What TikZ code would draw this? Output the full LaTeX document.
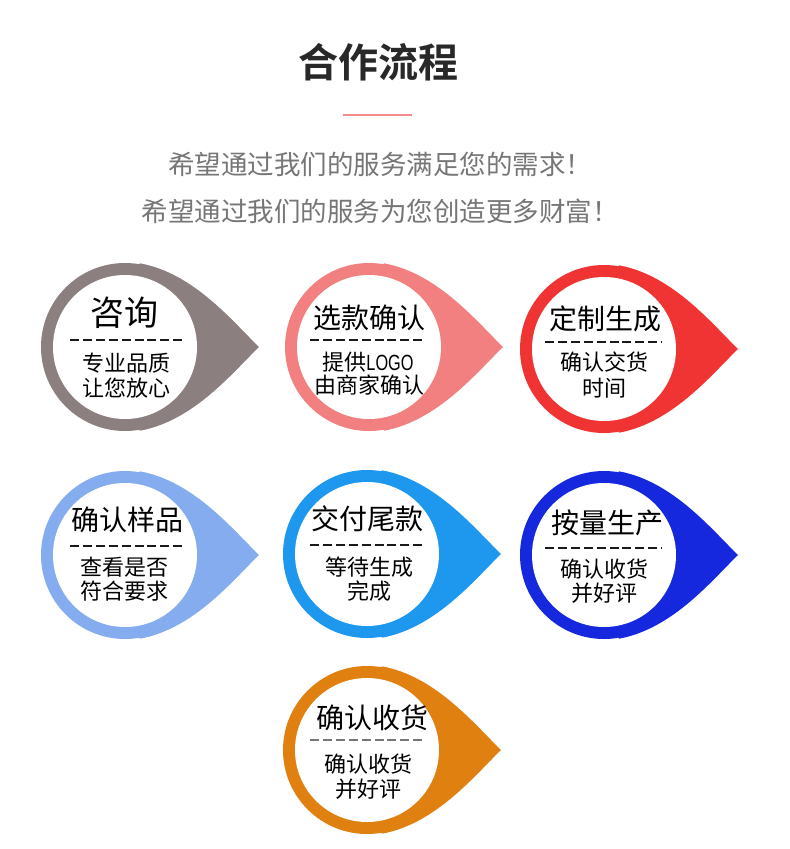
\documentclass[tikz,border=0pt]{standalone}
\usepackage{fontspec}
\newfontfamily\cjk{Noto Sans CJK SC}
\newfontfamily\cjkbold{Noto Sans CJK SC Bold}
\newfontfamily\latnarrow{Liberation Sans}[FakeStretch=0.74]
\definecolor{cTaupe}{RGB}{139,127,127}
\definecolor{cSalmon}{RGB}{242,128,128}
\definecolor{cRed}{RGB}{240,52,52}
\definecolor{cLightBlue}{RGB}{132,172,238}
\definecolor{cSky}{RGB}{30,152,238}
\definecolor{cBlue}{RGB}{22,40,222}
\definecolor{cOrange}{RGB}{224,128,16}
\definecolor{cTitle}{RGB}{40,40,40}
\definecolor{cSub}{RGB}{118,118,118}
\definecolor{cLine}{RGB}{242,140,140}
\newcommand{\pinshape}[3]{%
  \begin{scope}[shift={(#1,#2)}]
    \fill[#3] (0,0) circle (84pt);
    \fill[#3] (134,0) .. controls (108.8,24.2) and (69,74) .. (14.8,83.7)
      -- (0,0) -- (14.8,-83.7) .. controls (69,-74) and (108.8,-24.2) .. (134,0) -- cycle;
    \fill[white] (0,0) circle (72pt);
  \end{scope}}
\tikzset{
  pintitle/.style={inner sep=0pt, text=black, font=\cjk\fontsize{28}{30}\selectfont},
  pinsub/.style={inner sep=0pt, text=black, font=\cjk\fontsize{22}{24}\selectfont},
  dashrule/.style={line width=1.8pt, draw=black!90, dash pattern=on 9pt off 3.9pt},
  subtitle/.style={inner sep=0pt, text=cSub, font=\cjk\fontsize{26.5}{30}\selectfont},
}
\begin{document}
\begin{tikzpicture}[x=1pt,y=-1pt]
\useasboundingbox (0,0) rectangle (790,849);
\fill[white] (0,0) rectangle (790,849);

% header
\node[inner sep=0pt, text=cTitle, font=\cjkbold\fontsize{40}{44}\selectfont] (head) at (378,62) {合作流程};
\draw[cLine, line width=2pt] (343,115) -- (412,115);
\node[subtitle] (sub1) at (380,164) {希望通过我们的服务满足您的需求！};
\node[subtitle] (sub2) at (380,211) {希望通过我们的服务为您创造更多财富！};

% pins
\pinshape{125}{347}{cTaupe}
\pinshape{369}{347}{cSalmon}
\pinshape{604}{349}{cRed}
\pinshape{125}{555}{cLightBlue}
\pinshape{367}{554}{cSky}
\pinshape{604}{555}{cBlue}
\pinshape{367}{750}{cOrange}

% pin 1
\node[pintitle, font=\cjk\fontsize{34}{36}\selectfont] (t1) at (124,313) {咨询};
\draw[dashrule] (70,340) -- (185,340);
\node[pinsub] (s1a) at (126,363) {专业品质};
\node[pinsub] (s1b) at (126,388) {让您放心};

% pin 2
\node[pintitle] (t2) at (369,318) {选款确认};
\draw[dashrule] (310,340) -- (425,340);
\node[pinsub] (s2a) at (368,362) {提供{\latnarrow LOGO}};
\node[pinsub] (s2b) at (369,385) {由商家确认};

% pin 3
\node[pintitle] (t3) at (605,319) {定制生成};
\draw[dashrule] (545,342) -- (662,342);
\node[pinsub] (s3a) at (604,362) {确认交货};
\node[pinsub] (s3b) at (604,388) {时间};

% pin 4
\node[pintitle] (t4) at (127,520) {确认样品};
\draw[dashrule] (70,546) -- (185,546);
\node[pinsub] (s4a) at (124,567) {查看是否};
\node[pinsub] (s4b) at (124,591) {符合要求};

% pin 5
\node[pintitle] (t5) at (367,519) {交付尾款};
\draw[dashrule] (310,545) -- (425,545);
\node[pinsub] (s5a) at (369,567) {等待生成};
\node[pinsub] (s5b) at (369,591) {完成};

% pin 6
\node[pintitle] (t6) at (607,523) {按量生产};
\draw[dashrule] (545,548) -- (662,548);
\node[pinsub] (s6a) at (604,569) {确认收货};
\node[pinsub] (s6b) at (604,593) {并好评};

% pin 7
\node[pintitle] (t7) at (372,718) {确认收货};
\draw[dashrule, draw=cSub] (310,740) -- (425,740);
\node[pinsub] (s7a) at (368,764) {确认收货};
\node[pinsub] (s7b) at (368,789) {并好评};
\end{tikzpicture}
\end{document}
